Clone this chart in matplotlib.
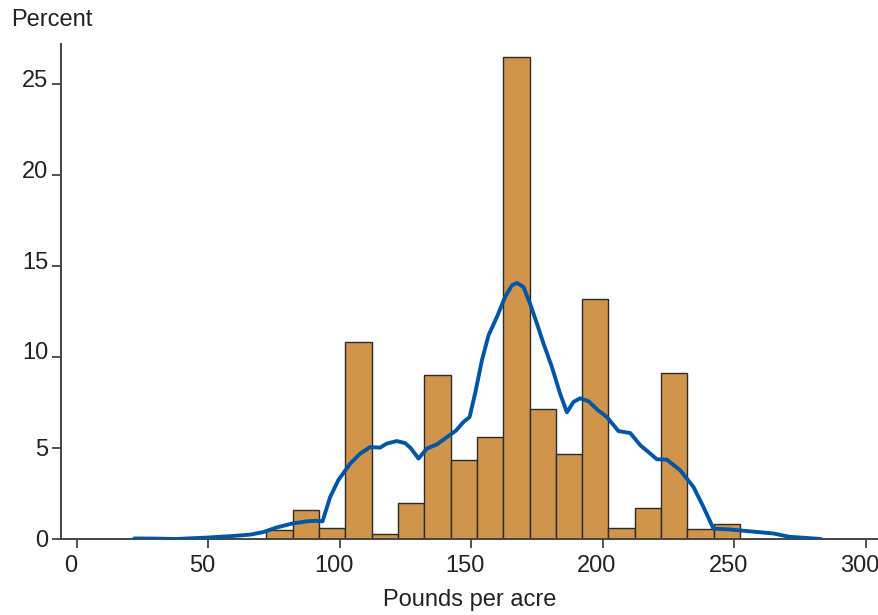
import matplotlib
matplotlib.use("Agg")
import matplotlib.pyplot as plt
from matplotlib.transforms import ScaledTranslation

plt.rcParams['font.family'] = ['Liberation Sans', 'DejaVu Sans']

# Histogram bins (centers, pounds per acre) and heights (percent)
bin_centers = [77.2, 87.2, 97.2, 107.2, 117.2, 127.2, 137.2, 147.2, 157.2,
               167.2, 177.2, 187.2, 197.2, 207.2, 217.2, 227.2, 237.2, 247.2]
bin_percent = [0.48, 1.61, 0.63, 10.8, 0.26, 2.0, 9.0, 4.36, 5.6,
               26.5, 7.13, 4.65, 13.2, 0.63, 1.69, 9.14, 0.55, 0.85]
bin_width = 10

# Density curve
curve_x = [22, 30, 38, 50, 60, 66, 71, 76, 82, 87.5, 91, 93.5, 96.4, 99.5,
           104, 107.8, 111.6, 115.4, 117.9, 121.7, 124.9, 127, 130, 133.2,
           137, 140.8, 144.2, 147.1, 149.4, 151.5, 154.1, 156.6, 159.8, 162.9,
           165.5, 167.4, 169.9, 172.4, 175, 177.5, 180.7, 183.8, 186.4, 188.9,
           191.4, 194.6, 198.1, 201.6, 206, 210.5, 214.3, 218.1, 220.6, 224.4,
           229.5, 234.5, 238.3, 242.1, 248.5, 256, 265, 271, 283]
curve_y = [0.03, 0.02, 0.0, 0.08, 0.17, 0.24, 0.38, 0.63, 0.85, 0.97, 1.0, 0.97,
           2.3, 3.23, 4.14, 4.69, 5.05, 5.02, 5.24, 5.38, 5.27, 5.0, 4.42, 4.97,
           5.2, 5.6, 5.95, 6.43, 6.7, 7.99, 9.82, 11.19, 12.2, 13.3, 13.94, 14.07,
           13.85, 12.93, 11.84, 10.74, 9.45, 7.99, 6.96, 7.53, 7.73, 7.57, 7.09,
           6.7, 5.93, 5.82, 5.15, 4.69, 4.38, 4.36, 3.77, 2.86, 1.76, 0.57, 0.52,
           0.42, 0.3, 0.12, 0.0]

x_ticks = [0, 50, 100, 150, 200, 250, 300]
y_ticks = [0, 5, 10, 15, 20, 25]

fig = plt.figure(figsize=(8.79, 6.15), dpi=100)
ax = fig.add_axes([0.0694, 0.1236, 0.9296, 0.8049])

ax.bar(bin_centers, bin_percent, width=bin_width, color='#D0954A',
       edgecolor='#2b2b2b', linewidth=1.0, zorder=2)
ax.plot(curve_x, curve_y, color='#0056A6', linewidth=2.8, zorder=3,
        solid_joinstyle='round', solid_capstyle='round')

ax.set_xlim(-5.9, 304.7)
ax.set_ylim(0, 27.2)
ax.set_xticks(x_ticks)
ax.set_yticks(y_ticks)

for s in ['top', 'right']:
    ax.spines[s].set_visible(False)
for s in ['left', 'bottom']:
    ax.spines[s].set_color('#444444')
    ax.spines[s].set_linewidth(1.4)

ax.tick_params(axis='both', direction='out', length=6.3, width=1.2,
               color='#333333', labelsize=17, labelcolor='#222222')
ax.tick_params(axis='x', pad=5)
ax.tick_params(axis='y', pad=3)

fig.canvas.draw()
# x tick labels sit slightly left of their ticks in the reference
for lab in ax.get_xticklabels():
    lab.set_transform(lab.get_transform() + ScaledTranslation(-6/100, 0, fig.dpi_scale_trans))
# two-digit y tick labels sit slightly above their ticks
for lab, v in zip(ax.get_yticklabels(), y_ticks):
    if v >= 10:
        lab.set_transform(lab.get_transform() + ScaledTranslation(0, 6/100, fig.dpi_scale_trans))

ax.set_xlabel('Pounds per acre', fontsize=17, color='#222222', labelpad=9)
fig.text(11/879, 1 - 20/615, 'Percent', fontsize=17, color='#222222',
         ha='left', va='center')

fig.savefig('out.png', dpi=100)
